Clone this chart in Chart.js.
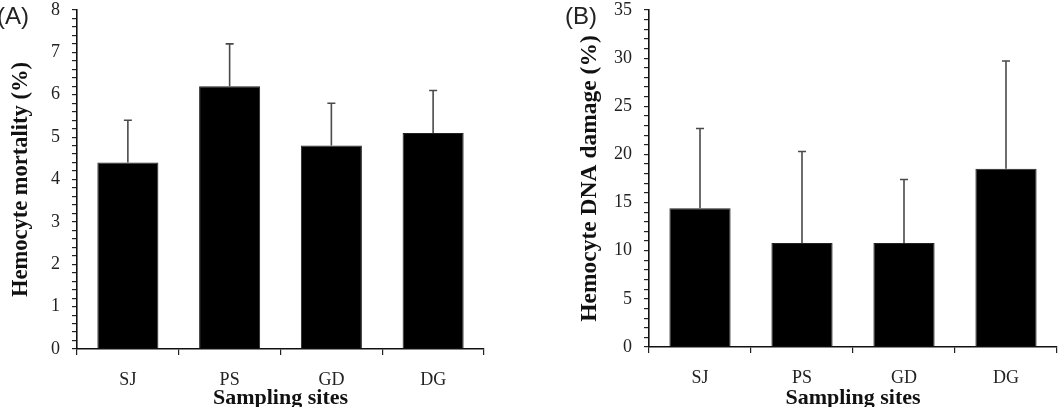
<!DOCTYPE html>
<html><head><meta charset="utf-8">
<script src="https://cdn.jsdelivr.net/npm/chart.js@4"></script>
<style>
html,body{margin:0;padding:0;background:#fff;overflow:hidden;width:1061px;height:407px;position:relative;}
#ca{position:absolute;left:0;top:0;}
#cb{position:absolute;left:560px;top:0;}
.lbl{position:absolute;font-family:"Liberation Sans",Arial,sans-serif;font-size:24px;color:#222;line-height:1;}
</style></head><body>
<canvas id="ca" width="500" height="420"></canvas>
<canvas id="cb" width="501" height="420"></canvas>
<div class="lbl" style="left:-3px;top:4px;">(A)</div>
<div class="lbl" style="left:565px;top:4px;">(B)</div>
<script>
const categories = ['SJ', 'PS', 'GD', 'DG'];
const mortalityMean = [4.4, 6.2, 4.8, 5.1];
const mortalityErr = [1.0, 1.0, 1.0, 1.0];
const dnaMean = [14.4, 10.8, 10.8, 18.5];
const dnaErr = [8.3, 9.5, 6.6, 11.2];
const mortalityTicks = [0, 1, 2, 3, 4, 5, 6, 7, 8];
const dnaTicks = [0, 5, 10, 15, 20, 25, 30, 35];

const errorBars = {
  id: 'errorBars',
  afterDatasetsDraw(chart, args, opts) {
    const ctx = chart.ctx;
    const meta = chart.getDatasetMeta(0);
    const y = chart.scales.y;
    const vals = chart.data.datasets[0].data;
    ctx.save();
    ctx.strokeStyle = '#4a4a4a';
    ctx.lineWidth = 1.6;
    meta.data.forEach((bar, i) => {
      const base = y.getPixelForValue(vals[i]);
      const top = y.getPixelForValue(vals[i] + opts.errors[i]);
      ctx.beginPath();
      ctx.moveTo(bar.x, base);
      ctx.lineTo(bar.x, top);
      ctx.moveTo(bar.x - 4, top);
      ctx.lineTo(bar.x + 4, top);
      ctx.stroke();
    });
    ctx.restore();
  }
};

function makeChart(id, values, errors, majors, max, step, yTitle, yWidth, xHeight, padRight, titlePad, titleSize) {
  const serif = 'Liberation Serif, Times New Roman, serif';
  return new Chart(document.getElementById(id), {
    type: 'bar',
    data: {
      labels: categories,
      datasets: [{ data: values, backgroundColor: '#000', borderColor: '#222', borderWidth: 1,
        barPercentage: 0.6, categoryPercentage: 1.0 }]
    },
    options: {
      responsive: false,
      animation: false,
      layout: { padding: { top: 10, right: padRight, left: 0, bottom: 0 } },
      plugins: { legend: { display: false }, tooltip: { enabled: false }, errorBars: { errors: errors } },
      scales: {
        x: {
          offset: true,
          afterFit(s) { s.height = xHeight; s.paddingLeft = 0; s.paddingRight = 0; },
          grid: { offset: true, drawOnChartArea: false, tickLength: 6, color: '#222', lineWidth: 1.2 },
          border: { color: '#111', width: 1.6 },
          ticks: { padding: 14, color: '#222', font: { family: serif, size: 18 } },
          title: { display: true, text: 'Sampling sites', color: '#111',
            font: { family: serif, size: 22, weight: 'bold' }, padding: { top: 0, bottom: 8 } }
        },
        y: {
          min: 0, max: max,
          afterFit(s) { s.width = yWidth; s.paddingTop = 0; s.paddingBottom = 0; },
          grid: { drawOnChartArea: false, tickLength: 5, color: '#222', lineWidth: 1.2 },
          border: { color: '#111', width: 1.6 },
          ticks: { stepSize: step, autoSkip: false, padding: 12, color: '#222',
            font: { family: serif, size: 18 },
            callback: (v) => majors.some(m => Math.abs(m - v) < 1e-6) ? String(Math.round(v)) : '' },
          title: { display: true, text: yTitle, color: '#111',
            font: { family: serif, size: titleSize, weight: 'bold' }, padding: { top: titlePad, bottom: 0 } }
        }
      }
    },
    plugins: [errorBars]
  });
}

makeChart('ca', mortalityMean, mortalityErr, mortalityTicks, 8, 0.2, 'Hemocyte mortality (%)', 77, 71, 16, 8, 22.5);
makeChart('cb', dnaMean, dnaErr, dnaTicks, 35, 1, 'Hemocyte DNA damage (%)', 89, 73, 4, 16, 23.5);
</script>
</body></html>
